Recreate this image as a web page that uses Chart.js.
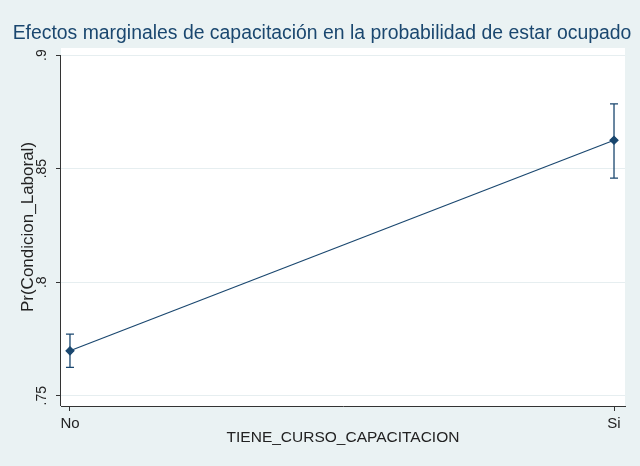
<!DOCTYPE html>
<html>
<head>
<meta charset="utf-8">
<script src="https://cdn.jsdelivr.net/npm/chart.js@4.4.0/dist/chart.umd.min.js"></script>
<style>
  html, body { margin: 0; padding: 0; background: #eaf2f3; }
  #wrap { width: 640px; height: 466px; }
</style>
</head>
<body>
<div id="wrap"><canvas id="c" width="640" height="466"></canvas></div>
<script>
const categories = ["No", "Si"];
const margins = [0.7698, 0.8625];
const ciLower = [0.7625, 0.8458];
const ciUpper = [0.7771, 0.8785];
const yTicks = [0.75, 0.80, 0.85, 0.90];
const yTickLabels = [".75", ".8", ".85", ".9"];
const chartTitle = 'Efectos marginales de capacitación en la probabilidad de estar ocupado';

const NAVY = '#1a476f';
const FONT = "'Liberation Sans', Arial, sans-serif";

const bgPlugin = {
  id: 'bg',
  beforeDraw(chart) {
    const ctx = chart.ctx, a = chart.chartArea;
    ctx.save();
    ctx.fillStyle = '#eaf2f3';
    ctx.fillRect(0, 0, chart.width, chart.height);
    ctx.fillStyle = '#ffffff';
    ctx.fillRect(a.left, a.top, a.right - a.left, a.bottom - a.top);
    ctx.restore();
  },
  afterDraw(chart) {
    const ctx = chart.ctx, y = chart.scales.y, a = chart.chartArea;
    ctx.save();
    // y axis line spanning from top tick to x axis
    ctx.strokeStyle = '#333333';
    ctx.lineWidth = 1;
    ctx.beginPath();
    const x0 = Math.round(a.left) - 0.5;
    ctx.moveTo(x0, y.getPixelForValue(yTicks[yTicks.length - 1]));
    ctx.lineTo(x0, a.bottom);
    ctx.stroke();
    // chart title
    ctx.fillStyle = NAVY;
    ctx.font = "19.4px " + FONT;
    ctx.textAlign = 'center';
    ctx.textBaseline = 'alphabetic';
    ctx.fillText(chartTitle, 322, 39);
    ctx.restore();
  }
};

const errPlugin = {
  id: 'errbars',
  afterDatasetsDraw(chart) {
    const ctx = chart.ctx, xs = chart.scales.x, ys = chart.scales.y;
    ctx.save();
    ctx.strokeStyle = NAVY;
    ctx.lineWidth = 1.3;
    for (let i = 0; i < categories.length; i++) {
      const x = xs.getPixelForValue(i);
      const y1 = ys.getPixelForValue(ciLower[i]);
      const y2 = ys.getPixelForValue(ciUpper[i]);
      ctx.beginPath();
      ctx.moveTo(x, y1); ctx.lineTo(x, y2);
      ctx.moveTo(x - 4, y1); ctx.lineTo(x + 4, y1);
      ctx.moveTo(x - 4, y2); ctx.lineTo(x + 4, y2);
      ctx.stroke();
    }
    ctx.restore();
  }
};

new Chart(document.getElementById('c'), {
  type: 'line',
  data: {
    datasets: [{
      data: categories.map((c, i) => ({ x: i, y: margins[i] })),
      borderColor: NAVY,
      backgroundColor: NAVY,
      borderWidth: 1.2,
      pointStyle: 'rectRot',
      pointRadius: 4,
      pointHoverRadius: 4,
      pointBackgroundColor: NAVY,
      pointBorderColor: NAVY,
      tension: 0
    }]
  },
  options: {
    responsive: false,
    animation: false,
    events: [],
    layout: { padding: { left: 0, right: 15, top: 48, bottom: 0 } },
    plugins: {
      legend: { display: false },
      tooltip: { enabled: false },
      title: { display: false }
    },
    scales: {
      x: {
        type: 'linear',
        min: -0.0165,
        max: 1.0202,
        afterBuildTicks(scale) { scale.ticks = categories.map((c, i) => ({ value: i })); },
        afterFit(scale) { scale.height = 60; },
        ticks: {
          callback: (v) => categories[v],
          color: '#222',
          font: { family: FONT, size: 15 },
          padding: 4,
          maxRotation: 0, minRotation: 0
        },
        grid: { drawOnChartArea: false, drawTicks: true, tickLength: 5, tickColor: '#333', color: '#333' },
        border: { display: true, color: '#333', width: 1 },
        title: {
          display: true,
          text: 'TIENE_CURSO_CAPACITACION',
          color: '#222',
          font: { family: FONT, size: 15.5 },
          padding: { top: 0, bottom: 19 }
        }
      },
      y: {
        type: 'linear',
        min: 0.7455,
        max: 0.9031,
        afterBuildTicks(scale) { scale.ticks = yTicks.map(v => ({ value: v })); },
        afterFit(scale) { scale.width = 61; },
        ticks: {
          callback: (v) => yTickLabels[yTicks.indexOf(v)] ?? '',
          color: '#222',
          font: { family: FONT, size: 14 },
          minRotation: 90, maxRotation: 90,
          crossAlign: 'center',
          padding: 4
        },
        grid: { color: '#e6eef0', lineWidth: 1, drawTicks: true, tickLength: 5, tickColor: '#333' },
        border: { display: false },
        title: {
          display: true,
          text: 'Pr(Condicion_Laboral)',
          color: '#222',
          font: { family: FONT, size: 17 },
          padding: { top: 18, bottom: 0 }
        }
      }
    }
  },
  plugins: [bgPlugin, errPlugin]
});
</script>
</body>
</html>
